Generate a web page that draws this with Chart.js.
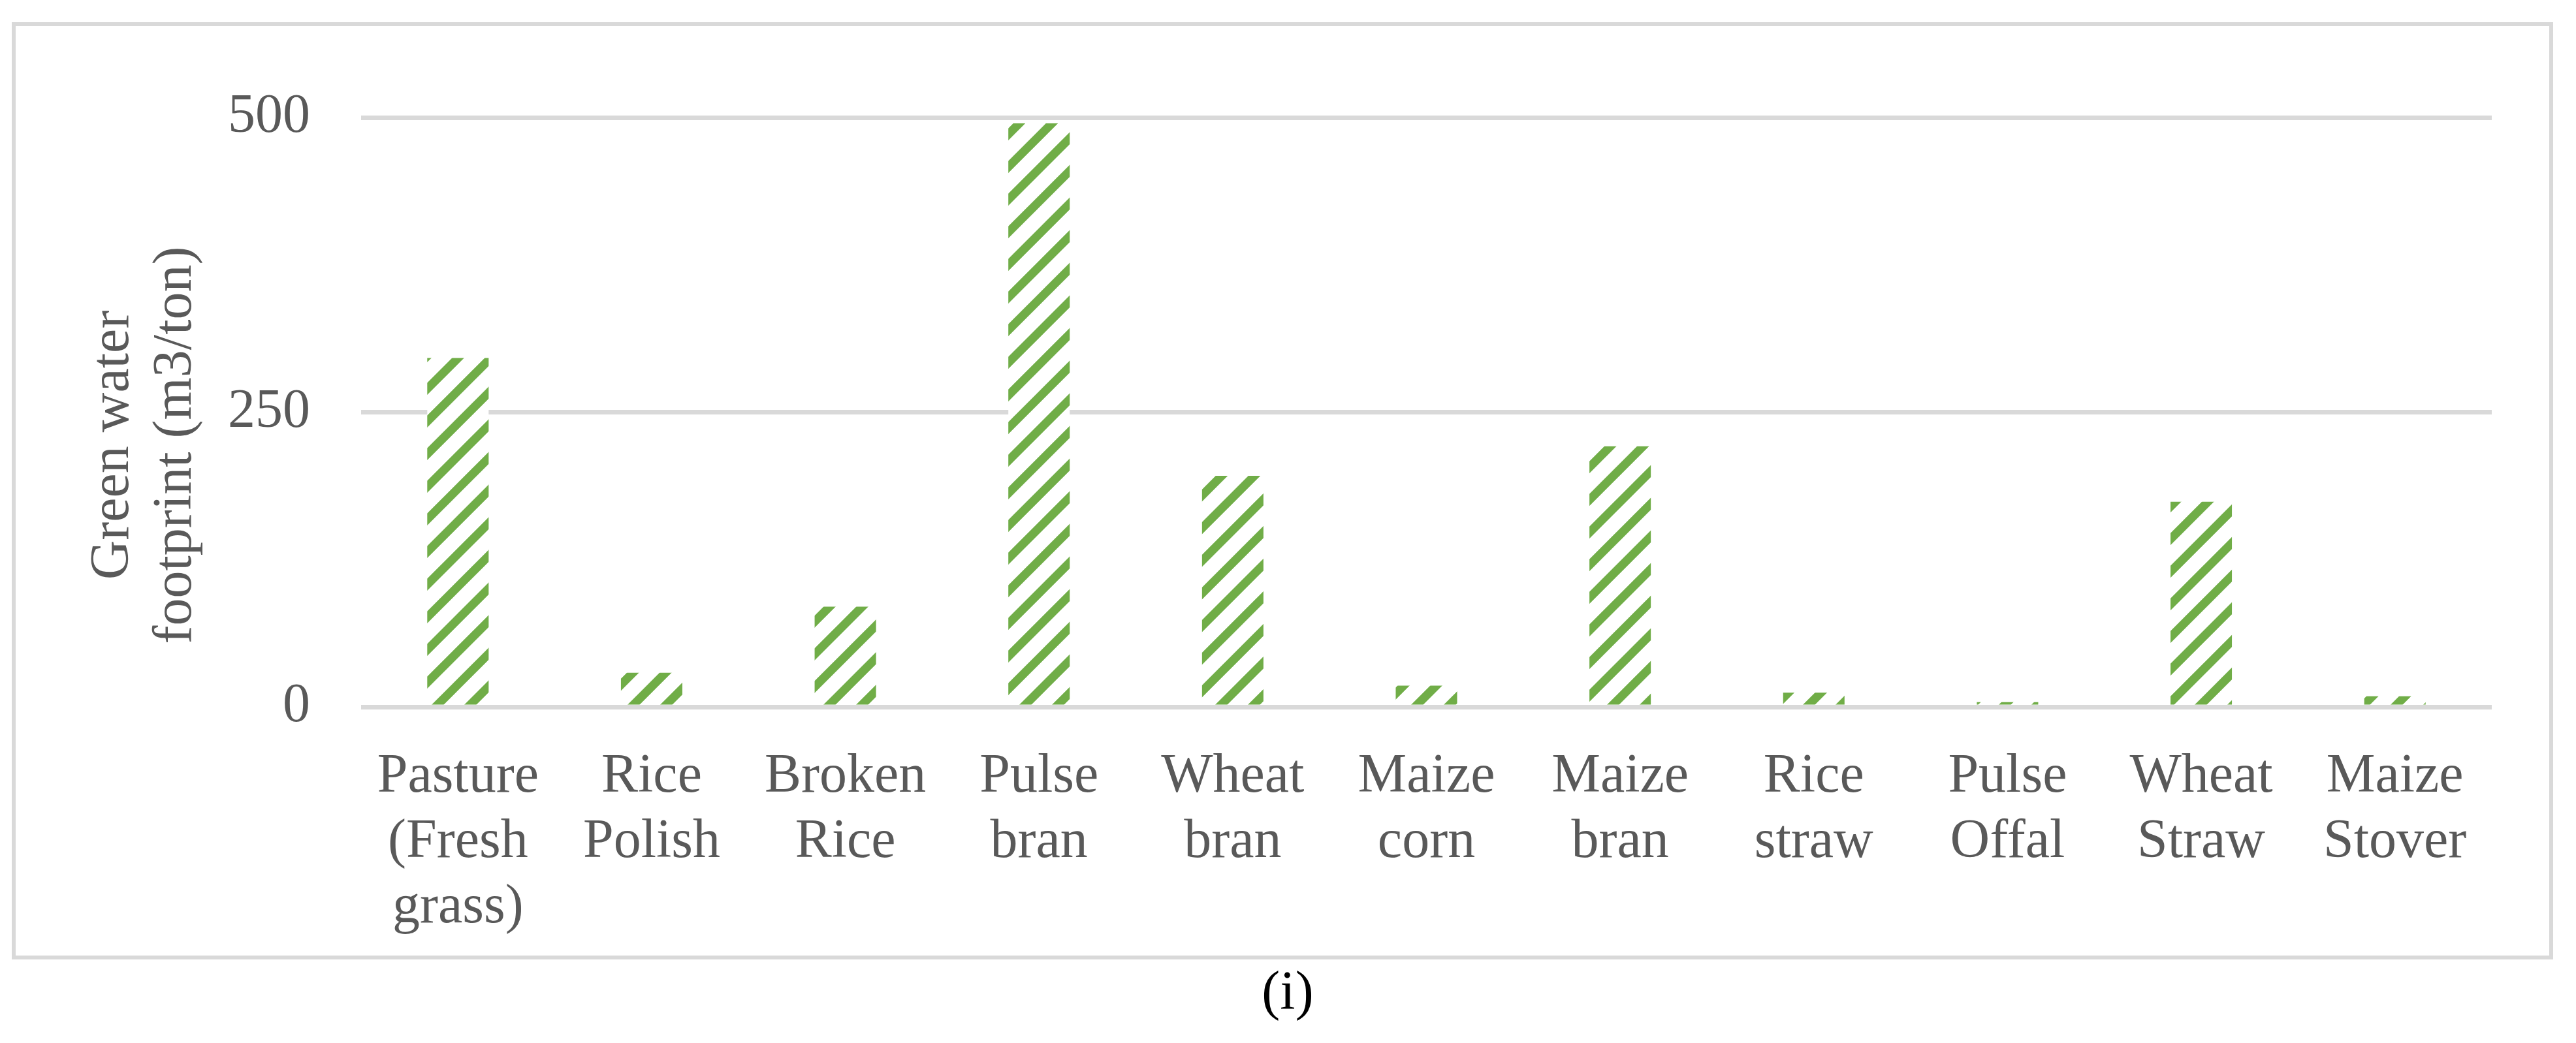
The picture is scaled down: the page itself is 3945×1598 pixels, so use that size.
<!DOCTYPE html>
<html>
<head>
<meta charset="utf-8">
<script src="https://cdn.jsdelivr.net/npm/chart.js@4.4.1/dist/chart.umd.min.js"></script>
<style>
  html, body { margin: 0; padding: 0; background: #fff; }
  #wrap { width: 3945px; height: 1598px; position: relative; }
</style>
</head>
<body>
<div id="wrap"><canvas id="wfChart" width="3945" height="1598"></canvas></div>
<script>
// feed items (x categories), multi-line like the original labels
const categories = [
  ["Pasture", "(Fresh", "grass)"],
  ["Rice", "Polish"],
  ["Broken", "Rice"],
  ["Pulse", "bran"],
  ["Wheat", "bran"],
  ["Maize", "corn"],
  ["Maize", "bran"],
  ["Rice", "straw"],
  ["Pulse", "Offal"],
  ["Wheat", "Straw"],
  ["Maize", "Stover"]
];
// green water footprint, m3/ton
const greenWF = [296, 29, 85, 495, 196, 18, 221, 12, 4, 174, 9];
const yTicks = [0, 250, 500];
const yTitle = ["Green water", "footprint (m3/ton)"];
const caption = "(i)";

const FONT = "'Liberation Serif', 'Times New Roman', serif";
const GREY_TXT = "#595959";
const GREEN = "#70AD47";

// diagonal stripe fill, like Excel's "wide upward diagonal"
function makeStripes() {
  const p = 50;
  const c = document.createElement("canvas");
  c.width = p; c.height = p;
  const g = c.getContext("2d");
  g.fillStyle = "#fff";
  g.fillRect(0, 0, p, p);
  g.strokeStyle = GREEN;
  g.lineWidth = 13;
  g.beginPath();
  g.moveTo(-10, p + 10); g.lineTo(p + 10, -10);
  g.moveTo(-10, 10); g.lineTo(10, -10);
  g.moveTo(p - 10, p + 10); g.lineTo(p + 10, p - 10);
  g.stroke();
  return g.createPattern(c, "repeat");
}

// frame, rotated y title and the caption
const extras = {
  id: "extras",
  beforeDraw(chart) {
    const ctx = chart.ctx;
    ctx.save();
    ctx.fillStyle = "#fff";
    ctx.fillRect(0, 0, chart.width, chart.height);
    ctx.strokeStyle = "#d9d9d9";
    ctx.lineWidth = 6;
    ctx.strokeRect(21, 37, 3886, 1430);
    ctx.restore();
  },
  afterDraw(chart) {
    const ctx = chart.ctx;
    ctx.save();
    ctx.fillStyle = GREY_TXT;
    ctx.font = "84px " + FONT;
    ctx.textAlign = "center";
    ctx.textBaseline = "alphabetic";
    ctx.translate(0, 682);
    ctx.rotate(-Math.PI / 2);
    ctx.fillText(yTitle[0], 0, 196);
    ctx.fillText(yTitle[1], 0, 292);
    ctx.restore();

    ctx.save();
    ctx.fillStyle = "#000";
    ctx.font = "84px " + FONT;
    ctx.textAlign = "center";
    ctx.textBaseline = "middle";
    ctx.fillText(caption, 1972, 1524);
    ctx.restore();
  }
};

const ctx = document.getElementById("wfChart").getContext("2d");
new Chart(ctx, {
  type: "bar",
  data: {
    labels: categories,
    datasets: [{
      label: "Green water footprint",
      data: greenWF,
      backgroundColor: makeStripes(),
      borderWidth: 0,
      barPercentage: 0.317,
      categoryPercentage: 1
    }]
  },
  options: {
    responsive: false,
    devicePixelRatio: 1,
    animation: false,
    layout: { padding: { left: 0, right: 129, top: 180, bottom: 115 } },
    plugins: { legend: { display: false }, tooltip: { enabled: false } },
    scales: {
      x: {
        grid: { display: false },
        border: { display: false },
        ticks: {
          color: GREY_TXT,
          font: { family: FONT, size: 84, lineHeight: 1.19 },
          padding: 50,
          maxRotation: 0,
          autoSkip: false
        },
        afterFit: (s) => { s.height = 400; }
      },
      y: {
        min: 0,
        max: 500,
        grid: { color: "#d9d9d9", lineWidth: 7, drawTicks: false },
        border: { display: false },
        ticks: {
          stepSize: 250,
          color: GREY_TXT,
          font: { family: FONT, size: 84 },
          padding: 78,
          callback: (v) => (yTicks.includes(v) ? v : "")
        },
        afterFit: (s) => { s.width = 553; }
      }
    }
  },
  plugins: [extras]
});
</script>
</body>
</html>
